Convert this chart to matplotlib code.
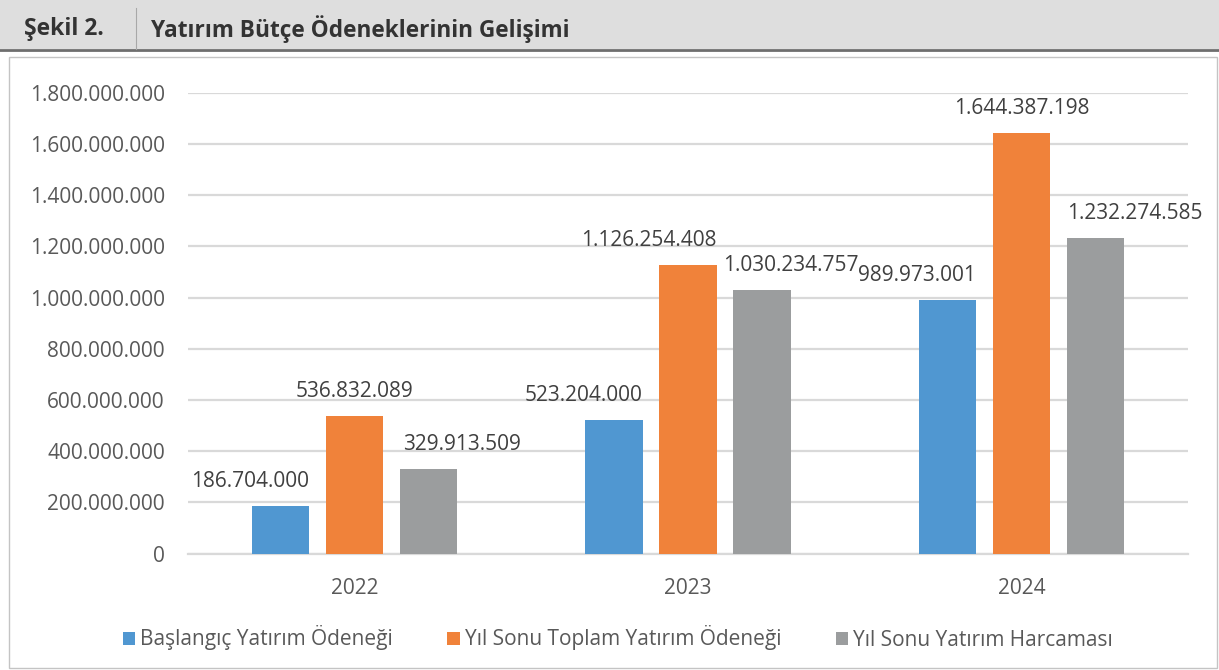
#!/usr/bin/env python3
"""Yatırım bütçe ödeneklerinin gelişimi: grouped bar chart saved to out.png."""

import matplotlib
matplotlib.use('Agg')
import matplotlib.pyplot as plt
import numpy as np
from matplotlib.patches import Rectangle
from matplotlib.lines import Line2D

# --- data ---
years = ['2022', '2023', '2024']
series_names = ['Başlangıç Yatırım Ödeneği',
                'Yıl Sonu Toplam Yatırım Ödeneği',
                'Yıl Sonu Yatırım Harcaması']
baslangic = [186704000, 523204000, 989973001]
yil_sonu_toplam = [536832089, 1126254408, 1644387198]
yil_sonu_harcama = [329913509, 1030234757, 1232274585]
y_ticks = [0, 200e6, 400e6, 600e6, 800e6, 1000e6, 1200e6, 1400e6, 1600e6, 1800e6]

# --- style ---
colors = ['#5097D1', '#F0823A', '#9B9D9E']
# label alignment per year (rows) and series (cols), plus a pixel nudge
label_ha = [['right', 'center', 'left'],
            ['right', 'right', 'left'],
            ['right', 'center', 'left']]
label_dx = [[0, 0, 3],
            [0, 0, -10],
            [0, 0, 0]]
W, H, DPI = 1219, 670, 100
PX = 72.0 / DPI  # points per pixel


def tr(v):
    """Turkish thousands separator."""
    return f'{int(round(v)):,}'.replace(',', '.')


plt.rcParams['font.family'] = ['Open Sans', 'DejaVu Sans']

fig = plt.figure(figsize=(W / DPI, H / DPI), dpi=DPI)

# header band + rules
fig.patches.append(Rectangle((0, 1 - 49 / H), 1, 49 / H, transform=fig.transFigure,
                             facecolor='#DEDEDE', edgecolor='none', zorder=0))
fig.add_artist(Line2D([0, 1], [1 - 50 / H, 1 - 50 / H], transform=fig.transFigure,
                      color='#6E6E6E', lw=2.0))
fig.add_artist(Line2D([136 / W, 136 / W], [1 - 8 / H, 1 - 49 / H], transform=fig.transFigure,
                      color='#A8A8A8', lw=0.8))
fig.text(24 / W, 1 - 29 / H, 'Şekil 2.', fontsize=16.5, fontweight='bold',
         color='#333333', va='center', ha='left')
fig.text(151 / W, 1 - 29 / H, 'Yatırım Bütçe Ödeneklerinin Gelişimi', fontsize=16.3,
         fontweight='bold', color='#333333', va='center', ha='left')

# chart frame
fig.patches.append(Rectangle((9 / W, 2 / H), 1208 / W, (668 - 57) / H, transform=fig.transFigure,
                             facecolor='none', edgecolor='#C4C4C4', lw=1.0, zorder=0))

ax = fig.add_axes([188 / W, 116.5 / H, 1000 / W, 460.8 / H])

x = np.arange(len(years))
bw = 0.1725
step = 0.222
all_series = [baslangic, yil_sonu_toplam, yil_sonu_harcama]

for i, (vals, col) in enumerate(zip(all_series, colors)):
    xs = x + (i - 1) * step
    ax.bar(xs, vals, width=bw, color=col, zorder=3, label=series_names[i])
    for j, (xx, v) in enumerate(zip(xs, vals)):
        ha = label_ha[j][i]
        if ha == 'right':
            lx = xx + bw / 2
        elif ha == 'left':
            lx = xx - bw / 2
        else:
            lx = xx
        ax.annotate(tr(v), (lx, v), xytext=(label_dx[j][i] * PX, 19 * PX),
                    textcoords='offset points',
                    ha=ha, va='baseline', fontsize=15, color='#404040', zorder=4)

ax.set_xlim(-0.5, 2.5)
ax.set_ylim(0, 1.8e9)
ax.set_yticks(y_ticks)
ax.set_yticklabels([tr(t) for t in y_ticks])
ax.set_xticks(x)
ax.set_xticklabels(years)
ax.tick_params(axis='y', length=0, pad=23 * PX, labelsize=15, labelcolor='#595959')
ax.tick_params(axis='x', length=0, pad=24 * PX, labelsize=15, labelcolor='#595959')
ax.grid(axis='y', color='#D9D9D9', lw=1.6, zorder=0)
ax.set_axisbelow(True)
for s in ['top', 'right', 'left']:
    ax.spines[s].set_visible(False)
ax.spines['bottom'].set_color('#D9D9D9')
ax.spines['bottom'].set_linewidth(1.6)

handles = [Rectangle((0, 0), 1, 1, facecolor=c, edgecolor='none') for c in colors]
fig.legend(handles, series_names, loc='center', bbox_to_anchor=(618 / W, 1 - 638 / H),
           ncol=3, frameon=False, fontsize=15, labelcolor='#595959',
           handlelength=0.6, handleheight=0.6, handletextpad=0.25, columnspacing=2.6)

fig.savefig('out.png', dpi=DPI)
